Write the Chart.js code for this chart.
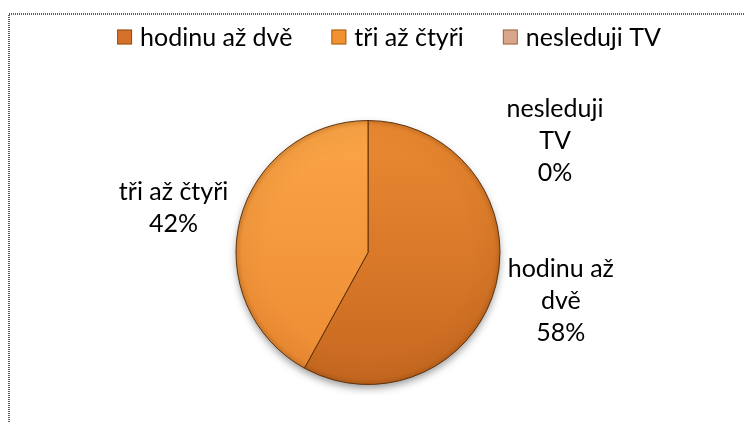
<!DOCTYPE html>
<html>
<head>
<meta charset="utf-8">
<script src="https://cdn.jsdelivr.net/npm/chart.js@4.4.1/dist/chart.umd.min.js"></script>
<style>
    html, body { margin: 0; padding: 0; background: #fff; overflow: hidden; }
</style>
</head>
<body>
<canvas id="tvChart" width="744" height="423"></canvas>
<script>
// Data
const categories = ['hodinu až dvě', 'tři až čtyři', 'nesleduji TV'];
const sliceLabelLines = [['hodinu až', 'dvě'], ['tři až čtyři'], ['nesleduji', 'TV']];
const shares = [58, 42, 0];

// Slice colours (top / bottom of the vertical shading, plus a flat legend colour)
const TOP_COLORS = ['#EC8A32', '#FBA547', '#E8BBA2'];
const BOTTOM_COLORS = ['#C66820', '#EC8A32', '#C98E72'];
const LEGEND_COLORS = ['#D5722A', '#F0922F', '#D9A68C'];

const FONT = '25px Lato, "Open Sans", sans-serif';

function sliceFill(context) {
    const i = context.dataIndex;
    const area = context.chart.chartArea;
    if (!area) return LEGEND_COLORS[i];
    const g = context.chart.ctx.createLinearGradient(0, area.top, 0, area.bottom);
    g.addColorStop(0, TOP_COLORS[i]);
    g.addColorStop(1, BOTTOM_COLORS[i]);
    return g;
}

/**
 * Grainy dotted frame around the chart (runs off the right/bottom edge)
 */
const chartFrame = {
    id: 'chartFrame',
    beforeDraw(chart, args, opts) {
        const ctx = chart.ctx;
        ctx.save();
        ctx.strokeStyle = opts.color;
        ctx.lineWidth = 2;
        ctx.setLineDash([1, 1]);
        ctx.strokeRect(opts.left, opts.top, chart.width + 40, chart.height + 40);
        ctx.restore();
    }
};

/**
 * Soft drop shadow under the pie
 */
const pieShadow = {
    id: 'pieShadow',
    beforeDatasetsDraw(chart) {
        const arc = chart.getDatasetMeta(0).data[0];
        if (!arc) return;
        const { x, y, outerRadius } = arc.getProps(['x', 'y', 'outerRadius'], true);
        const ctx = chart.ctx;
        ctx.save();
        ctx.shadowColor = 'rgba(0, 0, 0, 0.45)';
        ctx.shadowBlur = 9;
        ctx.shadowOffsetY = 4;
        ctx.fillStyle = '#C86A20';
        ctx.beginPath();
        ctx.arc(x, y, outerRadius - 1, 0, Math.PI * 2);
        ctx.fill();
        ctx.restore();
    }
};

/**
 * Rim shading + outside labels with category and percentage
 */
const sliceLabels = {
    id: 'sliceLabels',
    afterDatasetsDraw(chart, args, opts) {
        const ctx = chart.ctx;
        const meta = chart.getDatasetMeta(0);
        const data = chart.data.datasets[0].data;
        const total = data.reduce((a, b) => a + b, 0);

        const first = meta.data[0];
        const { x: px, y: py, outerRadius: pr } = first.getProps(['x', 'y', 'outerRadius'], true);
        ctx.save();
        const rim = ctx.createRadialGradient(px, py, pr * 0.78, px, py, pr);
        rim.addColorStop(0, 'rgba(120, 55, 0, 0)');
        rim.addColorStop(0.8, 'rgba(120, 55, 0, 0.06)');
        rim.addColorStop(1, 'rgba(110, 50, 0, 0.28)');
        ctx.fillStyle = rim;
        ctx.beginPath();
        ctx.arc(px, py, pr, 0, Math.PI * 2);
        ctx.fill();
        ctx.restore();

        ctx.save();
        ctx.font = opts.font;
        ctx.fillStyle = '#000';
        ctx.textAlign = 'center';
        ctx.textBaseline = 'middle';
        meta.data.forEach((arc, i) => {
            const { x, y, startAngle, endAngle, outerRadius } =
                arc.getProps(['x', 'y', 'startAngle', 'endAngle', 'outerRadius'], true);
            const mid = (startAngle + endAngle) / 2;
            const lines = [...sliceLabelLines[i], Math.round(data[i] / total * 100) + '%'];
            const w = Math.max(...lines.map(l => ctx.measureText(l).width));
            const h = lines.length * opts.lineHeight;
            const r = outerRadius + opts.offset;
            const nudge = opts.nudge[i] || [0, 0];
            const cx = x + Math.cos(mid) * (r + w / 2) + nudge[0];
            const cy = y + Math.sin(mid) * (r + h / 2) + nudge[1];
            lines.forEach((line, k) => {
                ctx.fillText(line, cx, cy - h / 2 + opts.lineHeight * (k + 0.5));
            });
        });
        ctx.restore();
    }
};

/**
 * Legend row across the top
 */
const topLegend = {
    id: 'topLegend',
    afterDraw(chart, args, opts) {
        const ctx = chart.ctx;
        const labels = chart.data.labels;
        ctx.save();
        ctx.font = opts.font;
        ctx.textBaseline = 'middle';
        ctx.textAlign = 'left';
        const widths = labels.map(l => ctx.measureText(l).width);
        const total = widths.reduce((a, w) => a + opts.box + opts.textGap + w, 0) + opts.itemGap * (labels.length - 1);
        let x = opts.centerX - total / 2;
        labels.forEach((label, i) => {
            const top = opts.y - opts.box / 2;
            ctx.fillStyle = LEGEND_COLORS[i];
            ctx.fillRect(x, top, opts.box, opts.box);
            ctx.strokeStyle = 'rgba(90, 40, 0, 0.5)';
            ctx.lineWidth = 1;
            ctx.strokeRect(x + 0.5, top + 0.5, opts.box - 1, opts.box - 1);
            ctx.fillStyle = '#000';
            ctx.fillText(label, x + opts.box + opts.textGap, opts.y + 1);
            x += opts.box + opts.textGap + widths[i] + opts.itemGap;
        });
        ctx.restore();
    }
};

const ctx = document.getElementById('tvChart').getContext('2d');
const tvChart = new Chart(ctx, {
    type: 'pie',
    data: {
        labels: categories,
        datasets: [{
            data: shares,
            backgroundColor: sliceFill,
            borderColor: 'rgba(80, 40, 8, 0.9)',
            borderWidth: 1
        }]
    },
    options: {
        responsive: false,
        animation: false,
        layout: {
            padding: { top: 120, bottom: 38, left: 235, right: 243 }
        },
        plugins: {
            legend: { display: false },
            tooltip: { enabled: false },
            chartFrame: { left: 9, top: 14, color: '#5e5e5e' },
            sliceLabels: {
                font: FONT,
                lineHeight: 32,
                offset: 14,
                nudge: [[0, 0], [0, 0], [187, 82]]
            },
            topLegend: {
                font: FONT,
                y: 37,
                box: 15,
                textGap: 8,
                itemGap: 39,
                centerX: 389
            }
        }
    },
    plugins: [chartFrame, pieShadow, sliceLabels, topLegend]
});
</script>
</body>
</html>
